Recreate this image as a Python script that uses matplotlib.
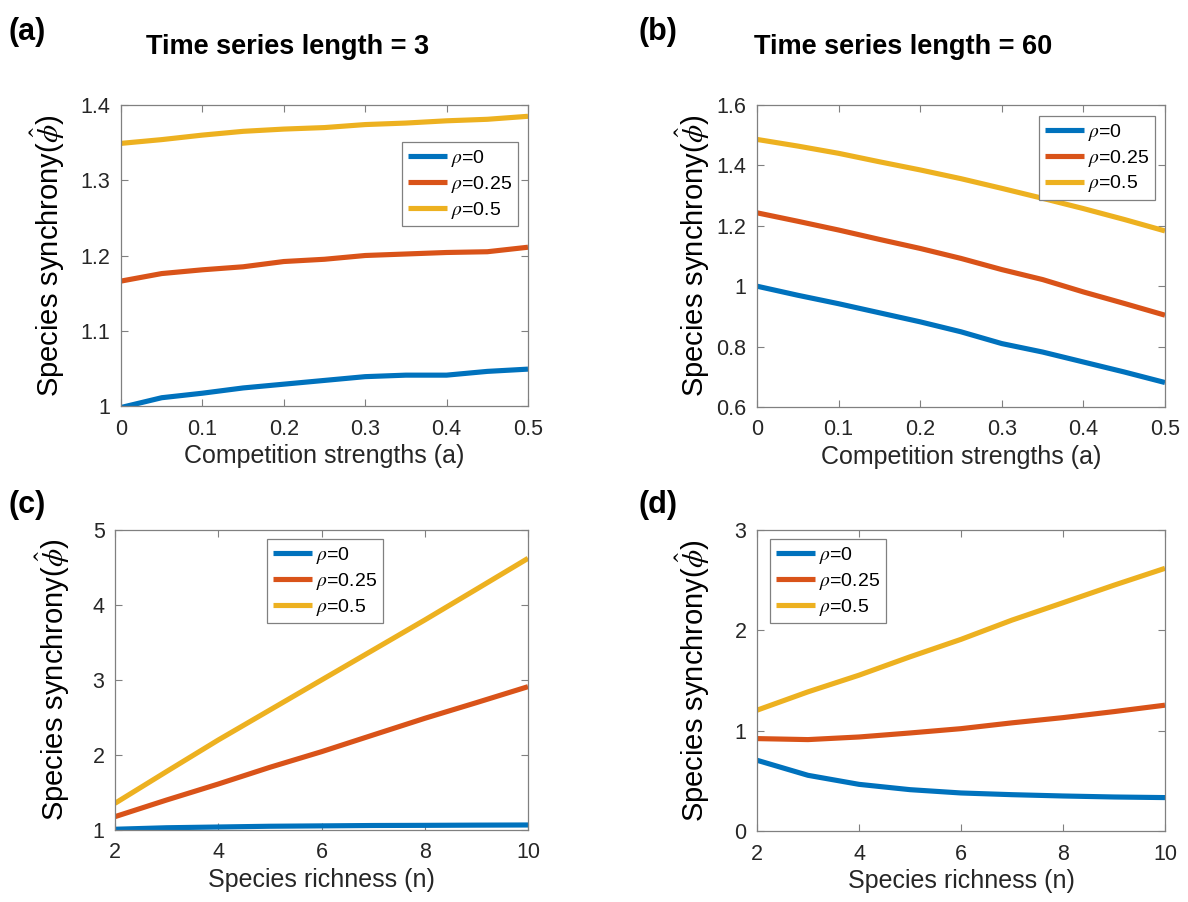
import matplotlib
matplotlib.use("Agg")
import matplotlib.pyplot as plt
from matplotlib.ticker import FixedLocator, FixedFormatter

plt.rcParams['font.family'] = ['Liberation Sans', 'DejaVu Sans']
plt.rcParams['mathtext.fontset'] = 'stix'

# ---- data ----
comp_a = [0, 0.05, 0.1, 0.15, 0.2, 0.25, 0.3, 0.35, 0.4, 0.45, 0.5]
richness_n = [2, 3, 4, 5, 6, 7, 8, 9, 10]

# (a) time series length 3, vs competition strength
a_rho0 = [0.998, 1.011, 1.017, 1.024, 1.029, 1.034, 1.039, 1.041, 1.041, 1.046, 1.049]
a_rho025 = [1.166, 1.176, 1.181, 1.185, 1.192, 1.195, 1.200, 1.202, 1.204, 1.205, 1.211]
a_rho05 = [1.349, 1.354, 1.360, 1.365, 1.368, 1.370, 1.374, 1.376, 1.379, 1.381, 1.385]

# (b) time series length 60, vs competition strength
b_rho0 = [1.000, 0.970, 0.942, 0.912, 0.882, 0.849, 0.810, 0.782, 0.749, 0.716, 0.681]
b_rho025 = [1.243, 1.215, 1.186, 1.155, 1.125, 1.092, 1.055, 1.022, 0.981, 0.943, 0.904]
b_rho05 = [1.486, 1.464, 1.440, 1.412, 1.385, 1.356, 1.324, 1.291, 1.257, 1.221, 1.183]

# (c) time series length 3, vs species richness
c_rho0 = [1.010, 1.030, 1.040, 1.050, 1.055, 1.060, 1.062, 1.065, 1.067]
c_rho025 = [1.178, 1.400, 1.613, 1.836, 2.044, 2.267, 2.489, 2.698, 2.911]
c_rho05 = [1.356, 1.780, 2.200, 2.600, 3.000, 3.400, 3.800, 4.210, 4.622]

# (d) time series length 60, vs species richness
d_rho0 = [0.705, 0.555, 0.465, 0.412, 0.379, 0.362, 0.349, 0.339, 0.333]
d_rho025 = [0.921, 0.911, 0.937, 0.977, 1.020, 1.078, 1.130, 1.190, 1.254]
d_rho05 = [1.204, 1.387, 1.553, 1.736, 1.910, 2.102, 2.275, 2.450, 2.618]

series_labels = [r'$\rho$=0', r'$\rho$=0.25', r'$\rho$=0.5']
colors = ['#0072BD', '#D95319', '#EDB120']

ticks_a_x = [0, 0.1, 0.2, 0.3, 0.4, 0.5]
ticks_a_y = [1, 1.1, 1.2, 1.3, 1.4]
ticklabels_a_y = ['1', '1.1', '1.2', '1.3', '1.4']
ticks_b_y = [0.6, 0.8, 1.0, 1.2, 1.4, 1.6]
ticklabels_b_y = ['0.6', '0.8', '1', '1.2', '1.4', '1.6']
ticks_c_y = [1, 2, 3, 4, 5]
ticks_d_y = [0, 1, 2, 3]
ticks_n_x = [2, 4, 6, 8, 10]

W, H = 1188, 902
fig = plt.figure(figsize=(W / 100, H / 100), dpi=100)


def axes_px(left, top, right, bottom):
    return fig.add_axes([left / W, 1 - bottom / H, (right - left) / W, (bottom - top) / H])


ylab = r'Species synchrony($\hat{\phi}$)'
tick_color = '#262626'
spine_color = '#808080'


def style(ax, x, ys, xlim, ylim, xticks, yticks, yticklabels, xlabel,
          legend_loc, legend_anchor, ylabel_x):
    for y, c, lab in zip(ys, colors, series_labels):
        ax.plot(x, y, color=c, lw=3.7, label=lab, solid_capstyle='butt')
    ax.set_xlim(*xlim)
    ax.set_ylim(*ylim)
    ax.xaxis.set_major_locator(FixedLocator(xticks))
    ax.xaxis.set_major_formatter(FixedFormatter([f'{t:g}' for t in xticks]))
    ax.yaxis.set_major_locator(FixedLocator(yticks))
    ax.yaxis.set_major_formatter(FixedFormatter(yticklabels))
    ax.tick_params(direction='in', length=5, width=0.8, color=spine_color,
                   labelsize=15.5, labelcolor=tick_color, top=True, right=True)
    ax.tick_params(axis='x', pad=9)
    ax.tick_params(axis='y', pad=7.5)
    for s in ax.spines.values():
        s.set_color(spine_color)
        s.set_linewidth(0.9)
    ax.set_xlabel(xlabel, fontsize=18, color=tick_color, labelpad=3)
    ax.set_ylabel(ylab, fontsize=21, color='black')
    ax.yaxis.set_label_coords(ylabel_x, 0.5)
    leg = ax.legend(loc=legend_loc, bbox_to_anchor=legend_anchor, fontsize=14,
                    frameon=True, fancybox=False, framealpha=1,
                    edgecolor=spine_color, handlelength=2.0, handletextpad=0.2,
                    borderpad=0.3, labelspacing=0.25, borderaxespad=0)
    leg.get_frame().set_linewidth(0.9)


ax_a = axes_px(121, 105, 528, 406)
style(ax_a, comp_a, [a_rho0, a_rho025, a_rho05], (0, 0.5), (1, 1.4),
      ticks_a_x, ticks_a_y, ticklabels_a_y, 'Competition strengths (a)',
      'upper right', (0.975, 0.877), -0.133)

ax_b = axes_px(757, 105, 1165, 407)
style(ax_b, comp_a, [b_rho0, b_rho025, b_rho05], (0, 0.5), (0.6, 1.6),
      ticks_a_x, ticks_b_y, ticklabels_b_y, 'Competition strengths (a)',
      'upper right', (0.975, 0.964), -0.111)

ax_c = axes_px(115, 530, 528, 830)
style(ax_c, richness_n, [c_rho0, c_rho025, c_rho05], (2, 10), (1, 5),
      ticks_n_x, ticks_c_y, [str(t) for t in ticks_c_y], 'Species richness (n)',
      'upper left', (0.368, 0.97), -0.105)

ax_d = axes_px(757, 530, 1165, 831)
style(ax_d, richness_n, [d_rho0, d_rho025, d_rho05], (2, 10), (0, 3),
      ticks_n_x, ticks_d_y, [str(t) for t in ticks_d_y], 'Species richness (n)',
      'upper left', (0.032, 0.97), -0.111)

# column titles and panel letters
fig.text(288 / W, 1 - 54 / H, 'Time series length = 3', fontsize=19.5,
         fontweight='bold', ha='center', va='baseline')
fig.text(903 / W, 1 - 54 / H, 'Time series length = 60', fontsize=19.5,
         fontweight='bold', ha='center', va='baseline')
for lab, (px, py) in zip(['(a)', '(b)', '(c)', '(d)'],
                         [(9, 40), (638, 40), (9, 513), (638, 513)]):
    fig.text(px / W, 1 - py / H, lab, fontsize=22, fontweight='bold',
             ha='left', va='baseline')

fig.savefig('out.png', dpi=100, facecolor='white')
